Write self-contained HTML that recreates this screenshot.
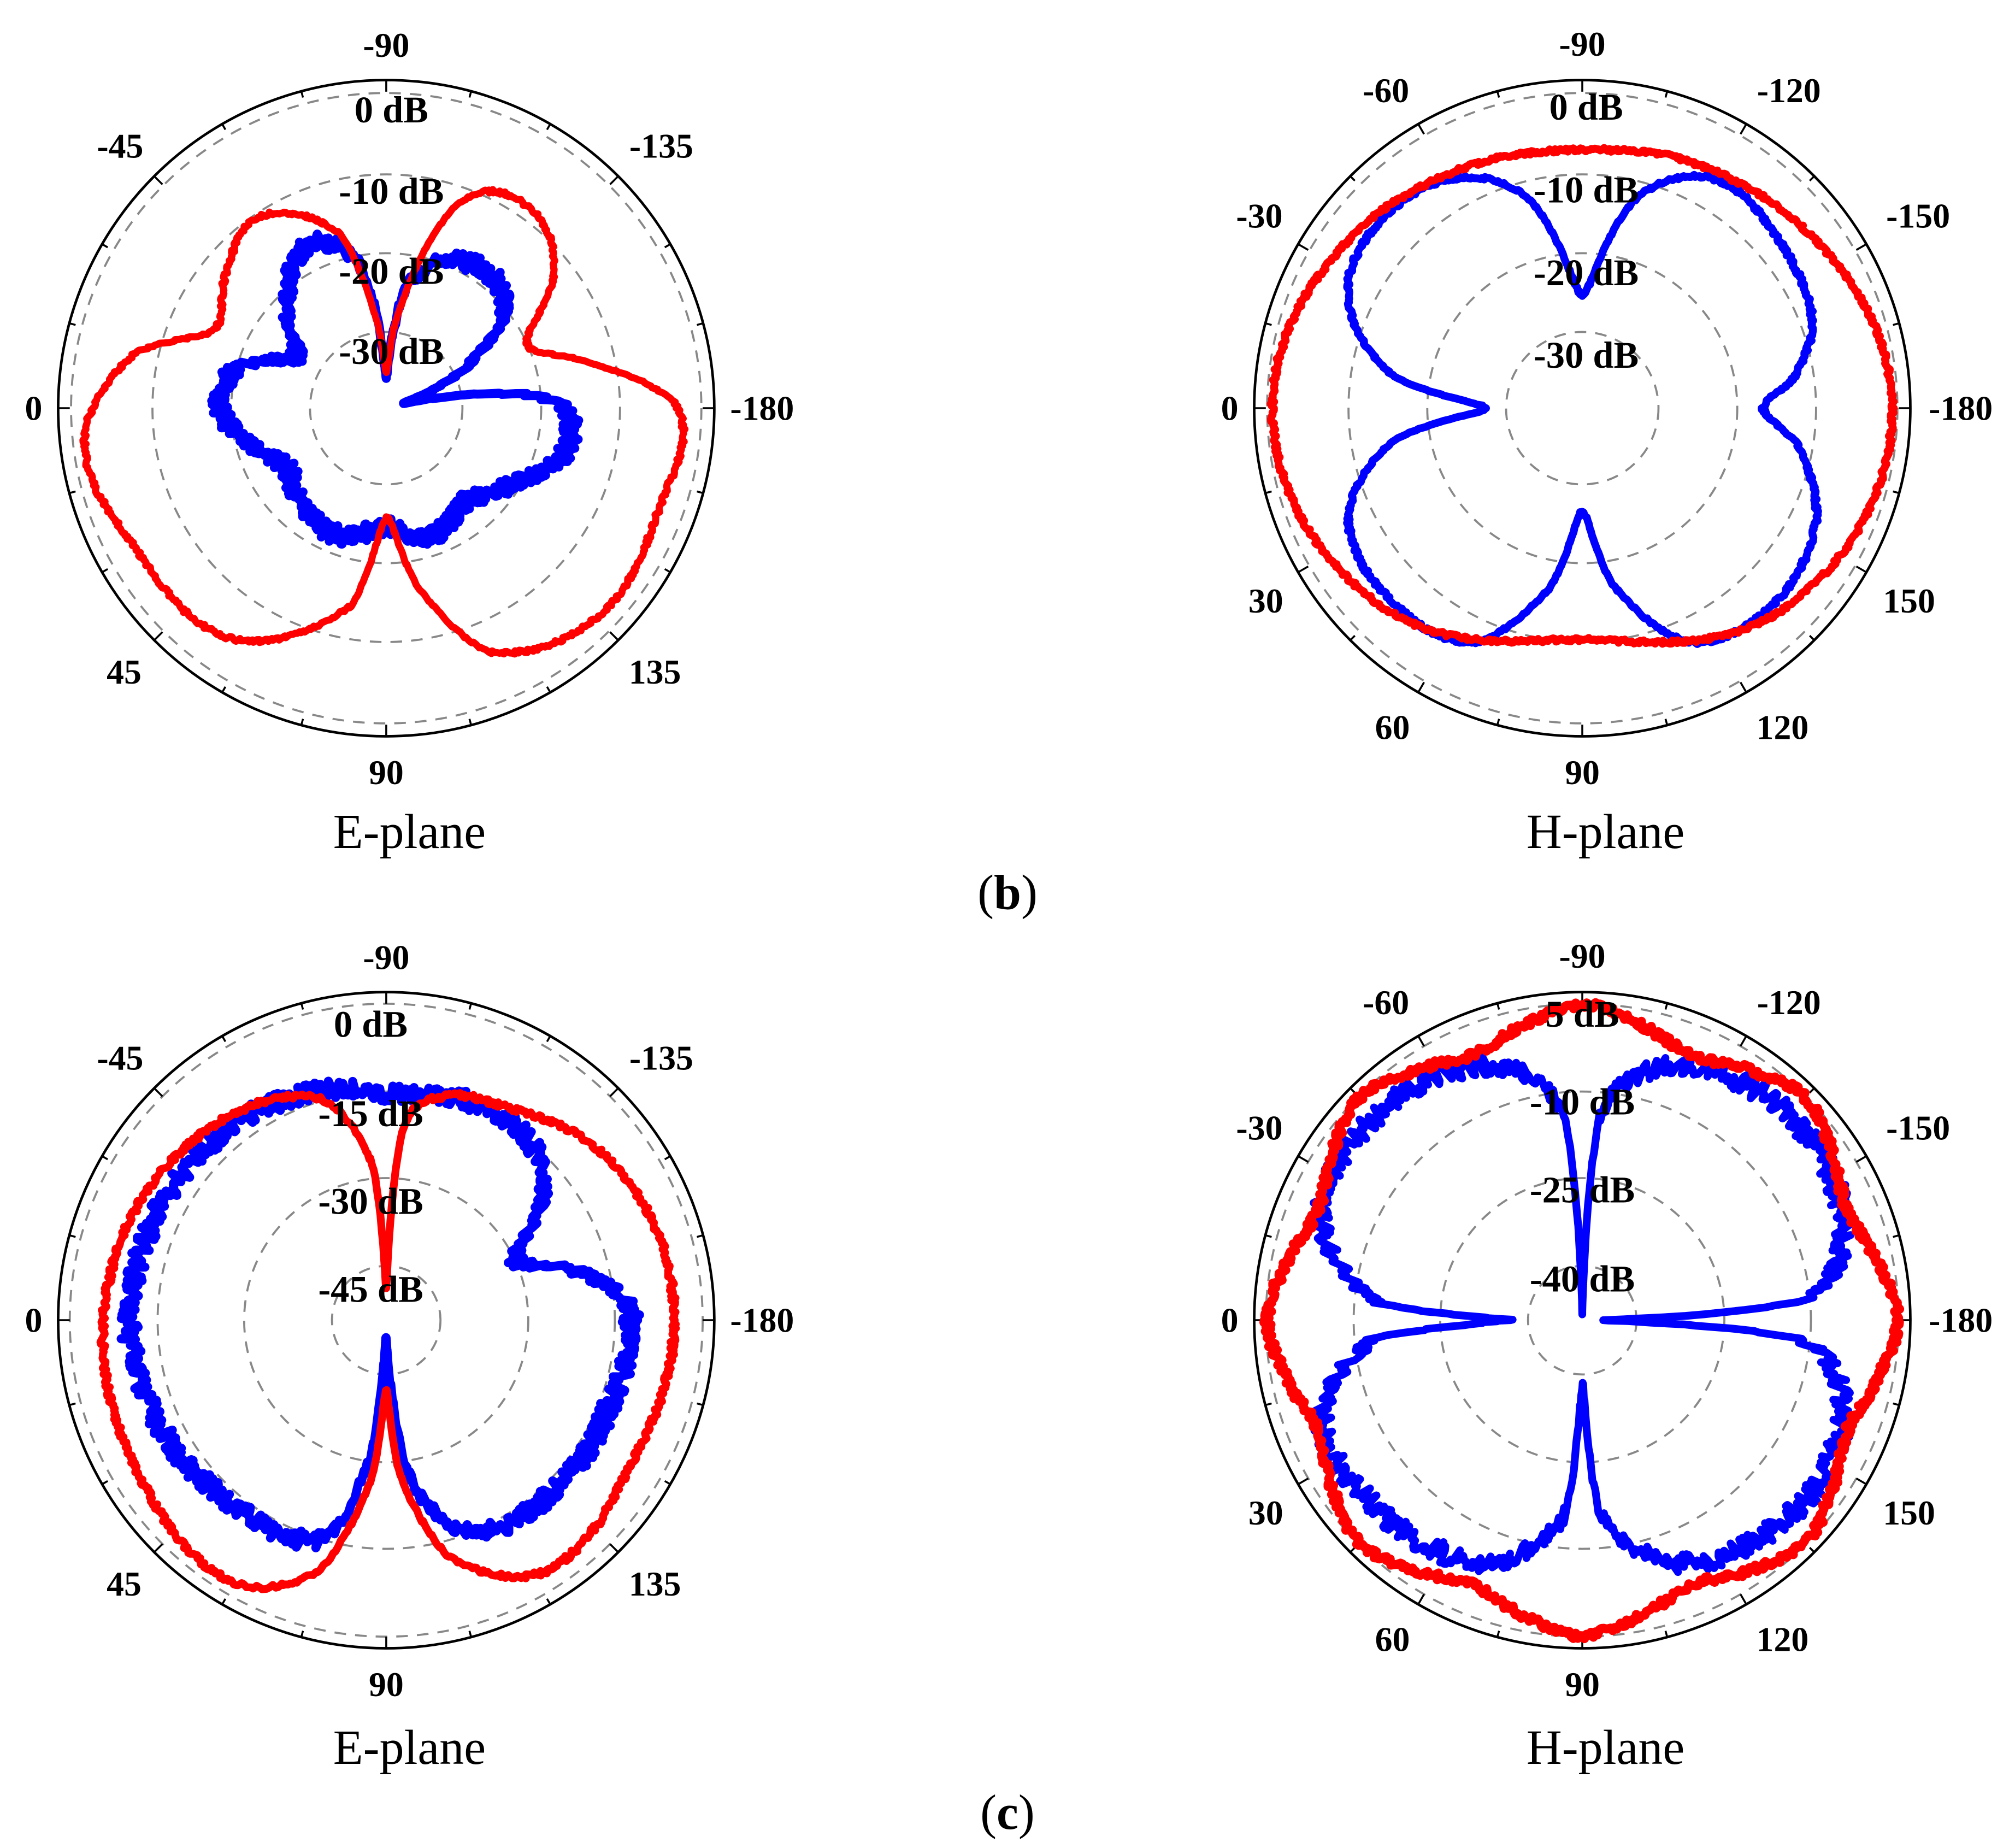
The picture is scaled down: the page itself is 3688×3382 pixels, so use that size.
<!DOCTYPE html>
<html><head><meta charset="utf-8"><style>
html,body{margin:0;padding:0;background:#fff}
svg{display:block}
.al{font-family:"Liberation Serif",serif;font-weight:bold;font-size:27px;text-anchor:middle;dominant-baseline:central;fill:#000}
.db{font-family:"Liberation Serif",serif;font-weight:bold;font-size:29px;text-anchor:middle;dominant-baseline:central;fill:#000}
.cap{font-family:"Liberation Serif",serif;font-size:38px;text-anchor:middle;dominant-baseline:central;fill:#000}
</style></head><body>
<svg id="s" width="3688" height="3382" viewBox="0 0 1560 1430.6" xmlns="http://www.w3.org/2000/svg">
<rect width="1560" height="1431" fill="#fff"/>
<g id="g"></g>
<text class="cap" x="317" y="644">E-plane</text>
<text class="cap" x="1243" y="644">H-plane</text>
<text class="cap" x="780" y="691">(<tspan font-weight="bold">b</tspan>)</text>
<text class="cap" x="317" y="1353">E-plane</text>
<text class="cap" x="1243" y="1353">H-plane</text>
<text class="cap" x="780" y="1403">(<tspan font-weight="bold">c</tspan>)</text>
</svg>
<script>
var NS="http://www.w3.org/2000/svg",G=document.getElementById('g');
function el(t,a,txt){var e=document.createElementNS(NS,t);for(var k in a)e.setAttribute(k,a[k]);if(txt!=null)e.textContent=txt;G.appendChild(e);return e;}
var seed=1;function rnd(){seed=(seed*16807)%2147483647;return seed/2147483647;}
function axes(cx,cy,rings,labels,angs){
 el('circle',{cx:cx,cy:cy,r:254,fill:'none',stroke:'#000','stroke-width':2});
 rings.forEach(function(r){el('circle',{cx:cx,cy:cy,r:r,fill:'none',stroke:'#888','stroke-width':1.6,'stroke-dasharray':'9 7'});});
 for(var a=0;a<360;a+=15){var t=a*Math.PI/180,l=(a%(angs)==0)?9:5;
  el('line',{x1:cx+254*Math.cos(t),y1:cy+254*Math.sin(t),x2:cx+(254-l)*Math.cos(t),y2:cy+(254-l)*Math.sin(t),stroke:'#000','stroke-width':1.5});}
}
function curve(cx,cy,pts,noise,col,w){
 pts=pts.slice().sort(function(a,b){return a[0]-b[0]});
 var n=pts.length,d='';
 function get(i){i=((i%n)+n)%n;return pts[i];}
 for(var a=0;a<360;a+=0.4){
  var i=0;while(i<n&&pts[i][0]<=a)i++;i--;
  var p1=get(i),p2=get(i+1),p0=get(i-1),p3=get(i+2);
  var a1=p1[0],a2=p2[0];if(i<0){a1=pts[n-1][0]-360;}if(a2<=a1)a2+=360;
  var aa=a;if(aa<a1)aa+=360;
  var t=(aa-a1)/(a2-a1);
  var r=0.5*((2*p1[1])+(-p0[1]+p2[1])*t+(2*p0[1]-5*p1[1]+4*p2[1]-p3[1])*t*t+(-p0[1]+3*p1[1]-3*p2[1]+p3[1])*t*t*t);
  r+= (rnd()-0.5)*noise*Math.min(1,r/60);
  if(r<2)r=2;
  var th=a*Math.PI/180;
  d+=(d?'L':'M')+(cx+r*Math.cos(th)).toFixed(1)+' '+(cy+r*Math.sin(th)).toFixed(1);
 }
 el('path',{d:d+'Z',fill:'none',stroke:col,'stroke-width':w,'stroke-linejoin':'round'});
}
var B='#0000ff',R='#ff0000';
// (b) E-plane
axes(299,316,[244,181,120,59],0,45);
curve(299,316,[[0,140],[14,142],[30,115],[50,95],[70,105],[90,92],[110,105],[130,100],[150,90],[165,110],[180,128],[195,120],[210,80],[225,110],[245,140],[260,110],[270,26],[280,100],[300,130],[320,120],[335,60],[345,15],[355,110]],14,B,7);
curve(299,316,[[90,85],[100,155],[124,215],[150,222],[174,235],[192,200],[204,147],[220,162],[236,178],[255,140],[265,60],[270,28],[275,60],[290,170],[305,191],[320,170],[335,120],[345,150],[0,226],[20,225],[45,230],[67,205],[80,140]],3,R,5.5);
[["0 dB",85],["-10 dB",148],["-20 dB",210],["-30 dB",272]].forEach(function(l){el('text',{class:'db',x:303,y:l[1]},l[0]);});
[["-90",299,35],["-45",93,113],["-135",512,113],["0",26,316],["-180",590,316],["45",96,520],["135",507,520],["90",299,598]].forEach(function(l){el('text',{class:'al',x:l[1],y:l[2]},l[0]);});
// (b) H-plane
axes(1225,316,[244,181,120,59],0,30);
curve(1225,316,[[0,140],[10,170],[25,200],[45,212],[65,200],[80,140],[90,80],[100,140],[115,200],[135,210],[155,200],[170,150],[180,75],[190,150],[205,200],[220,213],[240,205],[255,170],[270,88],[285,170],[300,205],[320,200],[340,190],[352,165]],3,B,6);
curve(1225,316,[[0,240],[45,220],[90,179],[135,218],[180,240],[225,218],[250,205],[270,200],[290,207],[315,218]],3,R,6);
[["0 dB",83],["-10 dB",147],["-20 dB",211],["-30 dB",275]].forEach(function(l){el('text',{class:'db',x:1228,y:l[1]},l[0]);});
var hl=[["-90",1225,34],["-60",1073,70],["-120",1385,70],["-30",975,167],["-150",1485,167],["0",952,316],["-180",1518,316],["30",980,465],["150",1478,465],["60",1078,563],["120",1380,563],["90",1225,598]];
hl.forEach(function(l){el('text',{class:'al',x:l[1],y:l[2]},l[0]);});
// (c) E-plane
axes(299,1022,[245,177,110,42],0,45);
curve(299,1022,[[0,189],[20,185],[45,185],[70,175],[82,120],[88,30],[92,20],[96,100],[105,175],[130,185],[160,195],[180,199],[210,195],[240,190],[260,182],[270,175],[285,180],[305,180],[320,160],[335,110],[345,150],[355,185]],14,B,7);
curve(299,1022,[[0,223],[30,220],[58,230],[75,190],[85,120],[90,53],[95,120],[105,200],[120,235],[150,225],[180,219],[210,210],[240,195],[255,175],[265,120],[270,25],[275,150],[285,180],[300,190],[320,210],[340,220]],4,R,6);
[["0 dB",793],["-15 dB",862],["-30 dB",930],["-45 dB",998]].forEach(function(l){el('text',{class:'db',x:287,y:l[1]},l[0]);});
[["-90",299,741],["-45",93,819],["-135",512,819],["0",26,1022],["-180",590,1022],["45",96,1226],["135",507,1226],["90",299,1304]].forEach(function(l){el('text',{class:'al',x:l[1],y:l[2]},l[0]);});
// (c) H-plane
axes(1225,1022,[245,177,110,42],0,30);
curve(1225,1022,[[0,15],[5,170],[20,215],[45,220],[70,200],[85,150],[90,50],[95,150],[110,200],[135,215],[160,215],[175,160],[180,60],[185,160],[200,215],[225,225],[250,210],[265,160],[270,5],[275,160],[290,210],[315,225],[340,215],[355,170]],16,B,6);
var cp=[];for(var a=0;a<360;a+=11.25){cp.push([a,233+11*Math.cos(8*a*Math.PI/180)]);}
curve(1225,1022,cp,6,R,7);
[["5 dB",785],["-10 dB",853],["-25 dB",921],["-40 dB",990]].forEach(function(l){el('text',{class:'db',x:1225,y:l[1]},l[0]);});
hl.forEach(function(l){el('text',{class:'al',x:l[1],y:l[2]+706},l[0]);});
</script>
</body></html>
